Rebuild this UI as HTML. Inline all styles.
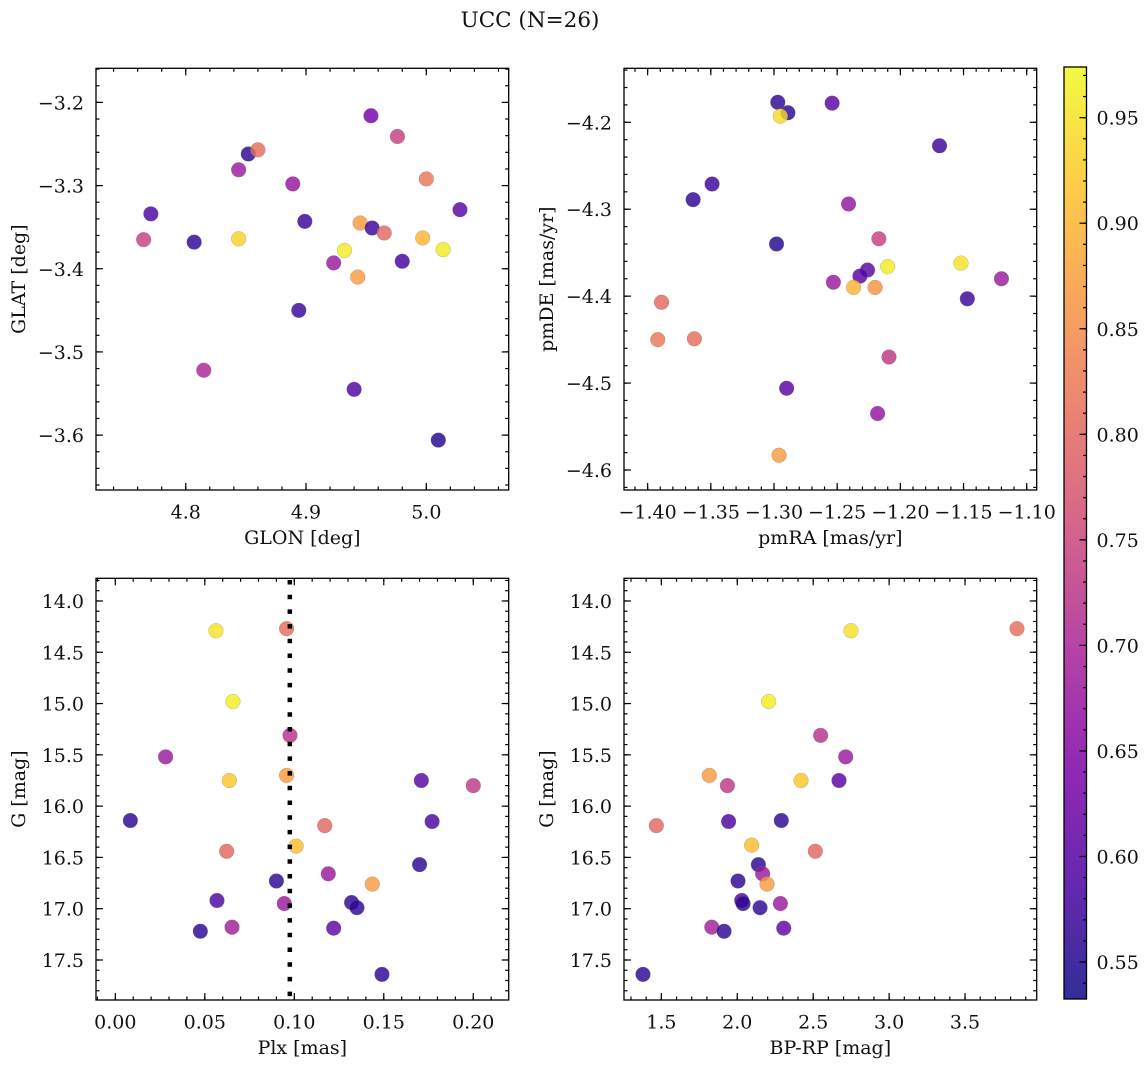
<!DOCTYPE html>
<html><head><meta charset="utf-8"><style>
html,body{margin:0;padding:0;background:#fff;}
svg{display:block;font-family:"DejaVu Serif","Liberation Serif",serif;}
</style></head><body>
<svg id="fig" width="1148" height="1067" viewBox="0 0 1148 1067" xmlns="http://www.w3.org/2000/svg">
<text x="530" y="27" font-size="21.5" text-anchor="middle" fill="#111">UCC (N=26)</text>
</svg>
<script>
// ---- Panel 1: GLON vs GLAT ----
const glon = [4.954,4.976,4.852,4.860,4.844,4.889,5.000,5.028,4.771,4.899,4.945,4.955,4.965,4.765,4.807,4.844,4.997,4.932,5.014,4.923,4.980,4.943,4.894,4.815,4.940,5.010];
const glat = [-3.216,-3.241,-3.262,-3.257,-3.281,-3.298,-3.292,-3.329,-3.334,-3.343,-3.345,-3.351,-3.357,-3.365,-3.368,-3.364,-3.363,-3.378,-3.377,-3.393,-3.391,-3.410,-3.450,-3.522,-3.545,-3.606];
const prob1 = [0.63,0.74,0.56,0.81,0.68,0.67,0.82,0.60,0.59,0.57,0.87,0.57,0.80,0.74,0.56,0.93,0.90,0.96,0.96,0.68,0.58,0.87,0.57,0.70,0.59,0.55];
// ---- Panel 2: pmRA vs pmDE ----
const pmra = [-1.297,-1.289,-1.295,-1.254,-1.169,-1.349,-1.364,-1.241,-1.217,-1.298,-1.152,-1.210,-1.226,-1.232,-1.120,-1.253,-1.237,-1.220,-1.147,-1.389,-1.392,-1.363,-1.209,-1.290,-1.218,-1.296];
const pmde = [-4.177,-4.189,-4.193,-4.178,-4.227,-4.271,-4.289,-4.294,-4.334,-4.340,-4.362,-4.366,-4.370,-4.377,-4.380,-4.384,-4.390,-4.390,-4.403,-4.407,-4.450,-4.449,-4.470,-4.506,-4.535,-4.583];
const prob2 = [0.56,0.56,0.94,0.60,0.57,0.57,0.56,0.67,0.74,0.55,0.95,0.96,0.60,0.60,0.68,0.68,0.90,0.86,0.57,0.80,0.82,0.81,0.73,0.60,0.67,0.87];
// ---- Panel 3: Plx vs G ----
const plx = [0.0562,0.0957,0.0657,0.0976,0.0281,0.0637,0.0957,0.171,0.200,0.0084,0.177,0.117,0.101,0.0622,0.170,0.119,0.090,0.1436,0.0568,0.0944,0.132,0.135,0.0475,0.0652,0.122,0.149];
const gmag3 = [14.29,14.27,14.98,15.31,15.52,15.75,15.70,15.75,15.80,16.14,16.15,16.19,16.39,16.44,16.57,16.66,16.73,16.76,16.92,16.95,16.94,16.99,17.22,17.18,17.19,17.64];
const prob3 = [0.95,0.81,0.96,0.72,0.68,0.92,0.87,0.60,0.73,0.56,0.59,0.80,0.91,0.80,0.56,0.68,0.56,0.87,0.59,0.68,0.56,0.56,0.56,0.69,0.61,0.56];
const plxRef = [0.0975];
// ---- Panel 4: BP-RP vs G ----
const bprp = [2.749,3.842,2.207,2.549,2.714,1.816,1.935,2.420,2.670,1.467,1.943,2.290,2.095,2.514,2.139,2.167,2.196,2.005,2.029,2.038,2.284,2.150,1.832,1.913,2.306,1.379];
const gmag4 = [14.29,14.27,14.98,15.31,15.52,15.70,15.80,15.75,15.75,16.19,16.15,16.14,16.38,16.44,16.57,16.66,16.76,16.73,16.92,16.95,16.95,16.99,17.18,17.22,17.19,17.64];
const prob4 = [0.95,0.81,0.96,0.72,0.68,0.87,0.73,0.92,0.60,0.80,0.59,0.56,0.91,0.80,0.56,0.68,0.87,0.56,0.59,0.56,0.68,0.56,0.69,0.56,0.61,0.56];
// ---- Colorbar ticks ----
const cbTicks = [0.55,0.60,0.65,0.70,0.75,0.80,0.85,0.90,0.95];
const cbRange = [0.5325,0.974];

const FS=19;
const NS="http://www.w3.org/2000/svg";
const svg=document.getElementById('fig');
function mk(tag,attrs,parent){const e=document.createElementNS(NS,tag);for(const k in attrs)e.setAttribute(k,attrs[k]);(parent||svg).appendChild(e);return e;}
const stops=[[0,[13,8,135]],[0.125,[76,2,161]],[0.25,[126,3,168]],[0.375,[168,34,150]],[0.5,[204,71,120]],[0.625,[230,108,92]],[0.75,[248,149,64]],[0.875,[253,196,39]],[1,[240,249,33]]];
function plasma(t){t=Math.max(0,Math.min(1,t));for(let i=1;i<stops.length;i++){if(t<=stops[i][0]){const a=stops[i-1],b=stops[i];const f=(t-a[0])/(b[0]-a[0]);const c=a[1].map((v,j)=>Math.round(v+(b[1][j]-v)*f));return `rgb(${c[0]},${c[1]},${c[2]})`;}}return 'rgb(240,249,33)';}
function cmap(v){return plasma((v-cbRange[0])/(cbRange[1]-cbRange[0]));}
function fmt(v,d){const s=Math.abs(v).toFixed(d);return (v<-1e-9?'\u2212':'')+s;}

function panel(name,box,xr,yr,yInv,xMaj,xMin,xDec,yMaj,yMin,yDec,xs,ys,cs,xlabel,ylabel){
  const g=mk('g',{});
  
  
  const [L,T,R,B]=box;
  const sx=v=>L+(v-xr[0])/(xr[1]-xr[0])*(R-L);
  const sy=yInv? (v=>T+(v-yr[0])/(yr[1]-yr[0])*(B-T)) : (v=>B-(v-yr[0])/(yr[1]-yr[0])*(B-T));
  const ticks=(a,b,step)=>{const out=[];const s=Math.ceil(a/step-1e-6);for(let k=s;k*step<=b+1e-9;k++)out.push(+(k*step).toFixed(6));return out;};
  const tg=mk('g',{stroke:'#000','stroke-width':1.2},g);
  
  
  ticks(xr[0],xr[1],xMin).forEach(v=>{const x=sx(v);mk('line',{x1:x,x2:x,y1:B,y2:B-3.5},tg);mk('line',{x1:x,x2:x,y1:T,y2:T+3.5},tg);});
  ticks(yr[0],yr[1],yMin).forEach(v=>{const y=sy(v);mk('line',{x1:L,x2:L+3.5,y1:y,y2:y},tg);mk('line',{x1:R,x2:R-3.5,y1:y,y2:y},tg);});
  ticks(xr[0],xr[1],xMaj).forEach(v=>{const x=sx(v);mk('line',{x1:x,x2:x,y1:B,y2:B-7},tg);mk('line',{x1:x,x2:x,y1:T,y2:T+7},tg);
    const t=mk('text',{x:x,y:B+28.5,'font-size':FS,'text-anchor':'middle',fill:'#111'},g);t.textContent=fmt(v,xDec);
    
    });
  ticks(yr[0],yr[1],yMaj).forEach(v=>{const y=sy(v);mk('line',{x1:L,x2:L+7,y1:y,y2:y},tg);mk('line',{x1:R,x2:R-7,y1:y,y2:y},tg);
    const t=mk('text',{x:L-12,y:y+7,'font-size':FS,'text-anchor':'end',fill:'#111'},g);t.textContent=fmt(v,yDec);
    
    });
  const pts=mk('g',{},g);
  
  
  for(let i=0;i<xs.length;i++){
    const c=mk('circle',{cx:sx(xs[i]),cy:sy(ys[i]),r:7.4,fill:cmap(cs[i]),'fill-opacity':0.82,stroke:'#777','stroke-width':0.4,'stroke-opacity':0.6},pts);
    
    
  }
  const fr=mk('rect',{x:L,y:T,width:R-L,height:B-T,fill:'none',stroke:'#000','stroke-width':1.3},g);
  
  
  const xl=mk('text',{x:(L+R)/2,y:B+54,'font-size':FS,'text-anchor':'middle',fill:'#111'},g);xl.textContent=xlabel;
  
  
  const yx=L-71, yy=(T+B)/2;
  const yl=mk('text',{x:yx,y:yy,'font-size':FS,'text-anchor':'middle',fill:'#111',transform:`rotate(-90 ${yx} ${yy})`},g);yl.textContent=ylabel;
  
  
  return {sx,sy,g};
}

panel('glon-glat-panel',[96,68.3,508.7,490],[4.7254,5.0685],[-3.666,-3.159],false,0.1,0.02,1,0.1,0.02,1,glon,glat,prob1,'GLON [deg]','GLAT [deg]');
panel('pm-panel',[624,68.3,1036.7,490],[-1.4187,-1.0921],[-4.623,-4.1379],false,0.05,0.01,2,0.1,0.02,1,pmra,pmde,prob2,'pmRA [mas/yr]','pmDE [mas/yr]');
const p3=panel('plx-g-panel',[96,578.3,508.7,1000],[-0.0108,0.2198],[13.779,17.89],true,0.05,0.01,2,0.5,0.1,1,plx,gmag3,prob3,'Plx [mas]','G [mag]');
panel('cmd-panel',[624,578.3,1036.7,1000],[1.254,3.972],[13.779,17.89],true,0.5,0.1,1,0.5,0.1,1,bprp,gmag4,prob4,'BP-RP [mag]','G [mag]');

plxRef.forEach(v=>{
  const x=p3.sx(v);
  const ln=mk('line',{x1:x,x2:x,y1:580,y2:999,stroke:'#000','stroke-width':4.5,'stroke-dasharray':'4.5 10.2'},p3.g);
  
  
});

const cb=mk('g',{});


const defs=mk('defs',{},cb);
const grad=mk('linearGradient',{id:'pl',x1:0,y1:1,x2:0,y2:0},defs);
stops.forEach(s=>{mk('stop',{offset:s[0],'stop-color':plasma(s[0]),'stop-opacity':0.85},grad);});
const CT=67,CB=999,CL=1064,CR=1086.5;
const cbr=mk('rect',{x:CL,y:CT,width:CR-CL,height:CB-CT,fill:'url(#pl)',stroke:'#000','stroke-width':1.3},cb);


const cy=v=>CB-(v-cbRange[0])/(cbRange[1]-cbRange[0])*(CB-CT);
for(let k=Math.ceil(cbRange[0]*100);k<=cbRange[1]*100;k++){const y=cy(k/100);mk('line',{x1:CR,x2:CR-3.5,y1:y,y2:y,stroke:'#000','stroke-width':1.2},cb);}
cbTicks.forEach(v=>{const y=cy(v);mk('line',{x1:CR,x2:CR-7,y1:y,y2:y,stroke:'#000','stroke-width':1.2},cb);
  const t=mk('text',{x:CR+10,y:y+7,'font-size':FS,fill:'#111'},cb);t.textContent=v.toFixed(2);
  
  });
</script>
</body></html>
